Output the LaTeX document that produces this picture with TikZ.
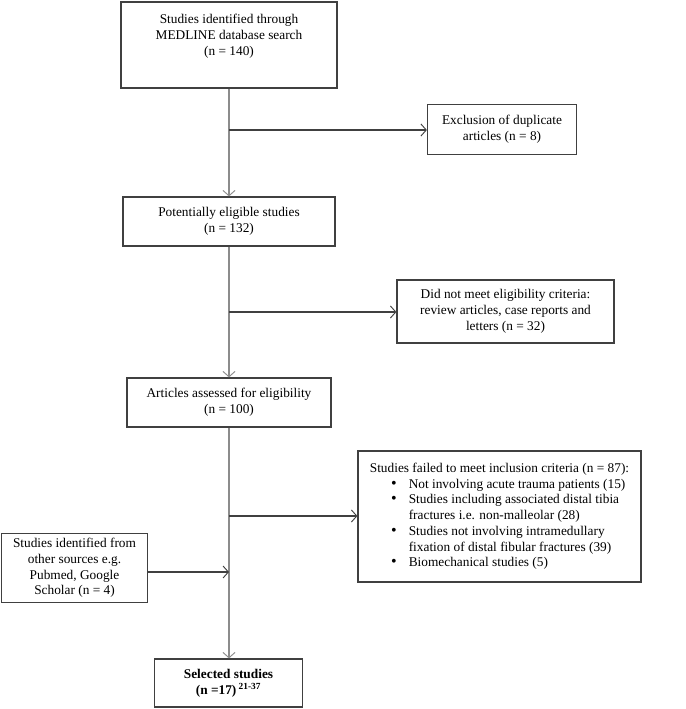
\documentclass[tikz,border=0pt]{standalone}
\usepackage{fontspec}
\setmainfont{Liberation Serif}
\usetikzlibrary{arrows.meta}

\tikzset{
	box/.style={draw=black!75, line width=0.9pt, align=center, inner sep=2pt},
	trunk/.style={draw=black!45, line width=1.2pt, -{Straight Barb[length=4pt,width=9pt,line width=0.7pt]}},
	branch/.style={draw=black!75, line width=0.8pt, -{Straight Barb[length=4pt,width=9pt,line width=0.7pt]}}
}

\begin{document}
\begin{tikzpicture}[x=0.75pt, y=-0.75pt, font=\fontsize{10}{11.8}\selectfont]
	\useasboundingbox (0,0) rectangle (685,709);
	%MEDLINE search
		\node[box, minimum width=162pt, minimum height=64.5pt] (search) at (229,45) {};
		\node[anchor=north, align=center, inner sep=2pt] (search-text) at ([yshift=-7.5pt]search.north) {Studies identified through\\MEDLINE database search\\(n = 140)};
	%Duplicates
		\node[box, minimum width=111.75pt, minimum height=37pt] (dup) at (502,129.5) {Exclusion of duplicate\\articles (n = 8)};
	%Potentially eligible
		\node[box, minimum width=159pt, minimum height=36.75pt] (pool) at (229,221.5) {Potentially eligible studies\\(n = 132)};
	%Not eligible
		\node[box, minimum width=162.75pt, minimum height=47.25pt] (noelig) at (505.5,311.5) {Did not meet eligibility criteria:\\review articles, case reports and\\letters (n = 32)};
	%Assessed
		\node[box, minimum width=153pt, minimum height=36.75pt] (assess) at (229,402.5) {Articles assessed for eligibility\\(n = 100)};
	%Failed inclusion
		\node[box, minimum width=212.25pt, minimum height=98.25pt, inner sep=0pt] (failed) at (499.5,516.5) {%
			\begin{tabular}{@{\hspace{16pt}}l@{\hspace{9pt}}l@{}}
				\multicolumn{2}{@{}l@{}}{Studies failed to meet inclusion criteria (n = 87):}\\
				{\large\textbullet} & Not involving acute trauma patients (15)\\
				{\large\textbullet} & Studies including associated distal tibia\\
				 & fractures i.e. non-malleolar (28)\\
				{\large\textbullet} & Studies not involving intramedullary\\
				 & fixation of distal fibular fractures (39)\\
				{\large\textbullet} & Biomechanical studies (5)
			\end{tabular}};
	%Other sources
		\node[box, minimum width=110pt, minimum height=52pt] (other) at (74.5,568) {Studies identified from\\other sources e.g.\\Pubmed, Google\\Scholar (n = 4)};
	%Selected
		\node[box, minimum width=111pt, minimum height=36pt, font=\fontsize{10}{11.8}\selectfont\bfseries] (selected) at (228.5,683) {Selected studies\\(n =17)\,\textsuperscript{21-37}};
	%Junctions on the main line
		\coordinate (j1) at (229,130);
		\coordinate (j2) at (229,312);
		\coordinate (j3) at (229,516);
		\coordinate (j4) at (229,572);
	%Main line
		\draw[trunk] (search) -- (pool);
		\draw[trunk] (pool) -- (assess);
		\draw[trunk] (assess) -- (assess.south |- selected.north);
	%Exclusions
		\draw[branch] (j1) -- (j1 -| dup.west);
		\draw[branch] (j2) -- (j2 -| noelig.west);
		\draw[branch] (j3) -- (j3 -| failed.west);
	%Other sources into main line
		\draw[branch] (j4 -| other.east) -- (j4);
\end{tikzpicture}
\end{document}
